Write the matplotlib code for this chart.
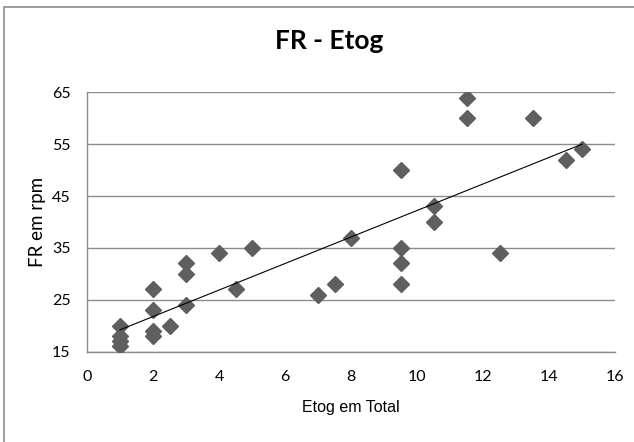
import matplotlib
matplotlib.use("Agg")
import matplotlib.pyplot as plt
import numpy as np
from matplotlib.patches import Rectangle

etog = [1, 1, 1, 1, 2, 2, 2, 2, 2.5, 3, 3, 3, 4, 4.5, 5, 7, 7.5, 8,
        9.5, 9.5, 9.5, 9.5, 10.5, 10.5, 11.5, 11.5, 12.5, 13.5, 14.5, 15]
fr = [20, 18, 17, 16, 27, 23, 19, 18, 20, 32, 30, 24, 34, 27, 35, 26, 28, 37,
      50, 35, 32, 28, 43, 40, 64, 60, 34, 60, 52, 54]
x_ticks = [0, 2, 4, 6, 8, 10, 12, 14, 16]
y_ticks = [15, 25, 35, 45, 55, 65]

W, H = 634, 442
fig = plt.figure(figsize=(W / 100, H / 100), dpi=100)
fig.patch.set_facecolor("white")

fig.patches.append(Rectangle((4 / W, -0.1), 1.2, (H - 7) / H + 0.1,
                             transform=fig.transFigure, fill=False,
                             edgecolor="#8c8c8c", linewidth=1.2))

ax = fig.add_axes([87 / W, (H - 351.5) / H, (615 - 87) / W, (351.5 - 92.5) / H])
ax.set_xlim(0, 16)
ax.set_ylim(15, 65)
ax.set_xticks(x_ticks)
ax.set_yticks(y_ticks)
ax.grid(axis="y", color="#8c8c8c", linewidth=1.0)
ax.set_axisbelow(True)
for s in ["top", "right"]:
    ax.spines[s].set_visible(False)
for s in ["left", "bottom"]:
    ax.spines[s].set_color("#8c8c8c")
    ax.spines[s].set_linewidth(1.0)
ax.tick_params(axis="x", length=0, pad=13)
ax.tick_params(axis="y", length=0, pad=12)
for lab in ax.get_xticklabels() + ax.get_yticklabels():
    lab.set_family(["Lato", "DejaVu Sans"])
    lab.set_fontsize(11.5)

ax.plot(etog, fr, linestyle="none", marker="D", markersize=8.5,
        color="#5f5f5f", zorder=3)

coef = np.polyfit(etog, fr, 1)
xs = np.array([min(etog), max(etog)])
ax.plot(xs, np.polyval(coef, xs), color="#000000", linewidth=0.8, zorder=4)

ax.set_xlabel("Etog em Total", family=["Liberation Sans Narrow", "Liberation Sans", "DejaVu Sans"],
              fontsize=11.5, labelpad=12)
ax.set_ylabel("FR em rpm", family=["Lato", "DejaVu Sans"], fontsize=13.5)
ax.yaxis.set_label_coords(-50 / (615 - 87), 0.5)
ax.yaxis.label.set_va("center")

fig.text(329 / W, (H - 41) / H, "FR - Etog", ha="center", va="center",
         fontsize=19, fontweight="bold", family=["Lato", "DejaVu Sans"])

fig.savefig("out.png", dpi=100)
